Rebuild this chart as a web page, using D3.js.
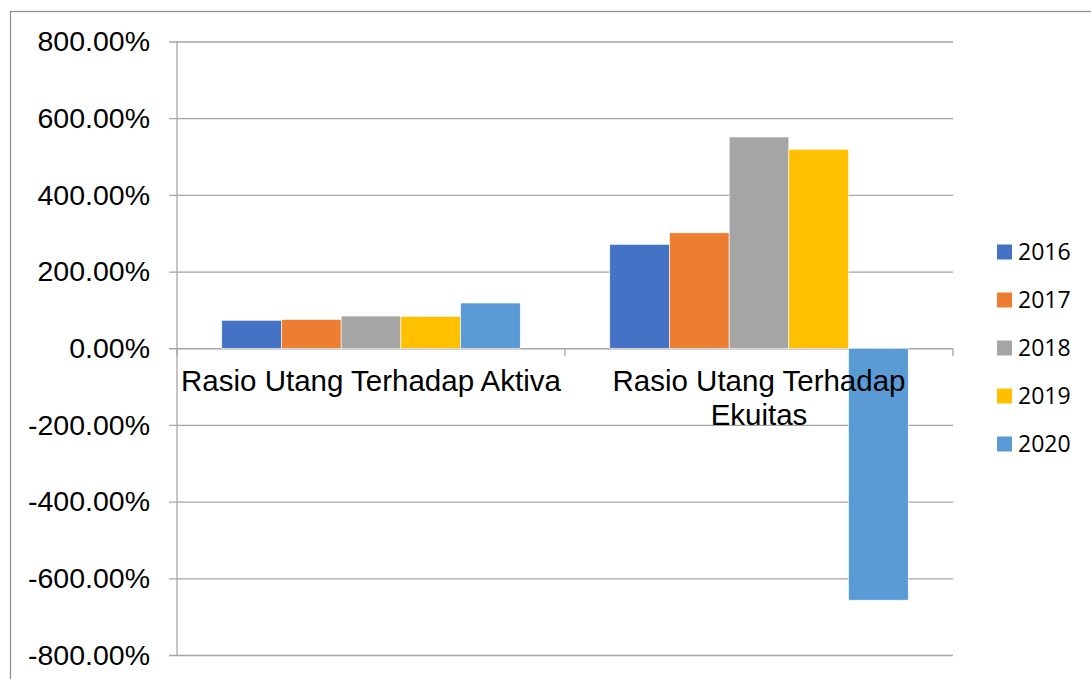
<!DOCTYPE html>
<html>
<head>
<meta charset="utf-8">
<script src="https://cdn.jsdelivr.net/npm/d3@7"></script>
<style>
  html, body { margin: 0; padding: 0; background: #fff; }
  svg { display: block; }
</style>
</head>
<body>
<svg id="chart" width="1091" height="679"></svg>
<script>
// Debt ratios per year (percent)
const categories = ["Rasio Utang Terhadap Aktiva", "Rasio Utang Terhadap Ekuitas"];
const years = ["2016", "2017", "2018", "2019", "2020"];
const v2016 = [73, 271];
const v2017 = [75, 301];
const v2018 = [84, 551];
const v2019 = [83, 519];
const v2020 = [118, -657];
const yTicks = [800, 600, 400, 200, 0, -200, -400, -600, -800];
const colors = ["#4472C4", "#ED7D31", "#A5A5A5", "#FFC000", "#5B9BD5"];

const seriesValues = [v2016, v2017, v2018, v2019, v2020];
const rows = categories.map((c, i) => ({
  category: c,
  values: years.map((y, j) => ({ year: y, value: seriesValues[j][i] }))
}));

const svg = d3.select("#chart");
const plot = { left: 177, right: 953, top: 41.5, bottom: 655 };

// outer frame
svg.append("rect")
  .attr("x", 10.5).attr("y", 11.5)
  .attr("width", 1200).attr("height", 800)
  .attr("fill", "none").attr("stroke", "#8c8c8c").attr("stroke-width", 1.2);

const y = d3.scaleLinear().domain([-800, 800]).range([plot.bottom, plot.top]);
const x0 = d3.scaleBand().domain(categories).range([plot.left, plot.right]).padding(0);
const x1 = d3.scaleBand().domain(years).range([0, x0.bandwidth()])
  .paddingInner(0).paddingOuter(0.75);

// gridlines + y axis ticks
const yAxis = d3.axisLeft(y).tickValues(yTicks)
  .tickSize(-(plot.right - plot.left) - 8)
  .tickFormat(d => d.toFixed(2) + "%");
const gy = svg.append("g")
  .attr("transform", `translate(${plot.left - 8},0)`)
  .call(yAxis);
gy.select(".domain").remove();
gy.selectAll(".tick line")
  .attr("stroke", "#a6a6a6").attr("stroke-width", 1.3)
  .attr("x1", 0).attr("x2", plot.right - plot.left + 8);
gy.selectAll(".tick text")
  .attr("x", -19)
  .attr("fill", "#000")
  .style("font-family", "'Liberation Sans', Arial, sans-serif")
  .style("font-size", "28.5px");

// vertical axis line
svg.append("line")
  .attr("x1", plot.left).attr("x2", plot.left)
  .attr("y1", plot.top).attr("y2", plot.bottom)
  .attr("stroke", "#a6a6a6").attr("stroke-width", 1.3);

// bars
const groups = svg.append("g").selectAll("g")
  .data(rows).join("g")
  .attr("transform", d => `translate(${x0(d.category)},0)`);
groups.selectAll("rect")
  .data(d => d.values).join("rect")
  .attr("x", d => x1(d.year))
  .attr("width", x1.bandwidth())
  .attr("y", d => y(Math.max(0, d.value)))
  .attr("height", d => Math.abs(y(d.value) - y(0)))
  .attr("fill", (d, i) => colors[i])
  .attr("stroke", "#ffffff").attr("stroke-width", 0.6);

// category ticks on the zero line
const catEdges = [plot.left, ...categories.map(c => x0(c) + x0.bandwidth())];
svg.append("g").selectAll("line")
  .data(catEdges).join("line")
  .attr("x1", d => d).attr("x2", d => d)
  .attr("y1", y(0)).attr("y2", y(0) + 8)
  .attr("stroke", "#a6a6a6").attr("stroke-width", 1.3);

// category labels (wrapped to band width)
const labelFont = "29.5px 'Liberation Sans', Arial, sans-serif";
const ctx = document.createElement("canvas").getContext("2d");
ctx.font = labelFont;
function wrap(text, maxW) {
  const words = text.split(" ");
  const lines = [];
  let line = "";
  words.forEach(w => {
    const t = line ? line + " " + w : w;
    if (ctx.measureText(t).width > maxW && line) { lines.push(line); line = w; }
    else line = t;
  });
  if (line) lines.push(line);
  return lines;
}
const labels = svg.append("g").selectAll("text")
  .data(categories).join("text")
  .attr("x", d => x0(d) + x0.bandwidth() / 2)
  .attr("y", 391)
  .attr("text-anchor", "middle")
  .attr("fill", "#000")
  .style("font", labelFont);
labels.each(function (d) {
  const lines = wrap(d, x0.bandwidth() - 4);
  d3.select(this).selectAll("tspan").data(lines).join("tspan")
    .attr("x", x0(d) + x0.bandwidth() / 2)
    .attr("dy", (l, i) => i === 0 ? 0 : 34)
    .text(l => l);
});

// legend
const legend = svg.append("g").selectAll("g")
  .data(years).join("g")
  .attr("transform", (d, i) => `translate(997,${252 + i * 48})`);
legend.append("rect")
  .attr("x", 0).attr("y", -7.5).attr("width", 15).attr("height", 15)
  .attr("fill", (d, i) => colors[i]);
legend.append("text")
  .attr("x", 21).attr("y", 0).attr("dy", "0.36em")
  .attr("fill", "#000")
  .style("font-family", "'Open Sans', 'Noto Sans', sans-serif")
  .style("font-size", "23px")
  .text(d => d);
</script>
</body>
</html>
